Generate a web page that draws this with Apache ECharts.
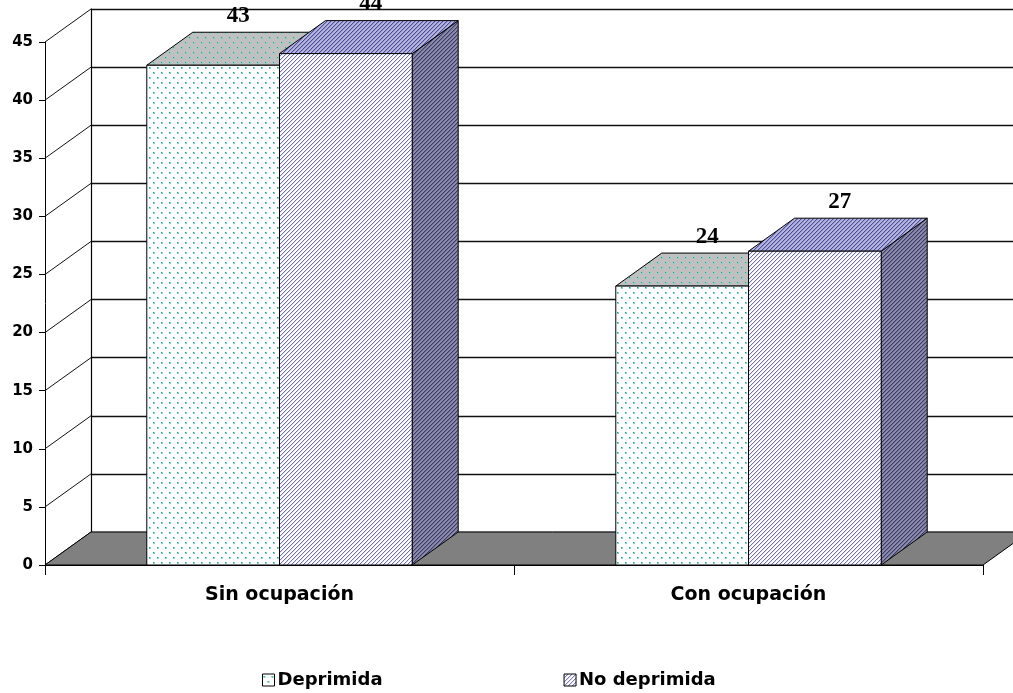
<!DOCTYPE html>
<html>
<head>
<meta charset="utf-8">
<script src="https://cdn.jsdelivr.net/npm/echarts@6/dist/echarts.min.js"></script>
<style>
  html, body { margin: 0; padding: 0; background: #fff; }
  #chart { width: 1013px; height: 693px; }
</style>
</head>
<body>
<div id="chart"></div>
<script>
// Chart data
const categories = ['Sin ocupación', 'Con ocupación'];
const seriesNames = ['Deprimida', 'No deprimida'];
const deprimida = [43, 24];
const noDeprimida = [44, 27];
const yTicks = [0, 5, 10, 15, 20, 25, 30, 35, 40, 45];

// 3D depth offset of the box (pixels)
const DX = 46, DY = -33;
const BAR_RATIO = 133 / 470;

// Fill patterns
function dotPattern(bg) {
  const c = document.createElement('canvas');
  c.width = 8; c.height = 10;
  const g = c.getContext('2d');
  g.fillStyle = bg; g.fillRect(0, 0, 8, 10);
  g.fillStyle = '#7fd4c8';
  g.fillRect(1, 2, 2, 2); g.fillRect(5, 7, 2, 2);
  g.fillStyle = '#18a090';
  g.fillRect(1, 2, 1, 1); g.fillRect(5, 7, 1, 1);
  return { image: c, repeat: 'repeat' };
}
function linePattern(bg, fg, mid) {
  const c = document.createElement('canvas');
  c.width = 4; c.height = 4;
  const g = c.getContext('2d');
  g.fillStyle = bg; g.fillRect(0, 0, 4, 4);
  for (let i = 0; i < 4; i++) {
    g.fillStyle = mid; g.fillRect(i, (4 - i) % 4, 1, 1);
    g.fillStyle = fg; g.fillRect(i, 3 - i, 1, 1);
  }
  return { image: c, repeat: 'repeat' };
}

const fills = {
  Deprimida: {
    front: dotPattern('#ffffff'),
    top: dotPattern('#c0c0c0'),
    side: dotPattern('#8a8a8a')
  },
  'No deprimida': {
    front: linePattern('#ffffff', '#6e6eb4', '#e6e6f4'),
    top: linePattern('#b4b4dc', '#4c4c9c', '#9898c8'),
    side: linePattern('#8c8ca8', '#3a3a6e', '#6c6c90')
  }
};

function barRenderer(slot, name) {
  const f = fills[name];
  return function (params, api) {
    const cat = api.value(0), v = api.value(1);
    const band = api.size([1, 0])[0];
    const w = band * BAR_RATIO;
    const top = api.coord([cat, v]);
    const base = api.coord([cat, 0]);
    const x0 = top[0] - w + slot * w;
    const x1 = x0 + w;
    const ty = top[1], by = base[1];
    const stroke = { stroke: '#000', lineWidth: 1 };
    return {
      type: 'group',
      children: [
        { type: 'polygon', shape: { points: [[x1, ty], [x1 + DX, ty + DY], [x1 + DX, by + DY], [x1, by]] },
          style: Object.assign({ fill: f.side }, stroke) },
        { type: 'polygon', shape: { points: [[x0, ty], [x1, ty], [x1 + DX, ty + DY], [x0 + DX, ty + DY]] },
          style: Object.assign({ fill: f.top }, stroke) },
        { type: 'rect', shape: { x: x0, y: ty, width: w, height: by - ty },
          style: Object.assign({ fill: f.front }, stroke) },
        { type: 'text', x: x0 + w / 2 + DX / 2 + 2, y: ty + DY - 5,
          style: { text: String(v), align: 'center', verticalAlign: 'bottom',
                   textAlign: 'center', textVerticalAlign: 'bottom',
                   font: 'bold 23px "Liberation Serif", serif', fill: '#000' } }
      ]
    };
  };
}

const chart = echarts.init(document.getElementById('chart'), null, { renderer: 'canvas' });

const labelFont = { fontFamily: '"DejaVu Sans", sans-serif', fontWeight: 'bold', color: '#000' };

chart.setOption({
  animation: false,
  backgroundColor: '#fff',
  grid: [
    { left: 45, top: 42, width: 938, height: 523 },
    { left: 91, top: 9, width: 1000, height: 523 }
  ],
  xAxis: [
    { type: 'category', gridIndex: 0, data: categories, boundaryGap: true,
      axisLine: { lineStyle: { color: '#000', width: 1 } },
      axisTick: { show: true, length: 10, lineStyle: { color: '#000' } },
      axisLabel: Object.assign({ fontSize: 19, margin: 21 }, labelFont),
      splitLine: { show: false } },
    { type: 'value', gridIndex: 1, min: 0, max: 1, show: false }
  ],
  yAxis: [
    { type: 'value', gridIndex: 0, min: 0, max: 45, interval: 5,
      axisLine: { show: true, lineStyle: { color: '#000', width: 1 } },
      axisTick: { show: true, length: 6, lineStyle: { color: '#000' } },
      axisLabel: Object.assign({ fontSize: 15, margin: 12 }, labelFont),
      splitLine: { show: false } },
    { type: 'value', gridIndex: 1, min: 0, max: 45, interval: 5,
      axisLine: { show: true, lineStyle: { color: '#000', width: 1.2 } },
      axisTick: { show: false }, axisLabel: { show: false },
      splitLine: { show: true, lineStyle: { color: '#111', width: 1.4 } } }
  ],
  legend: {
    left: 257, top: 666, itemWidth: 12, itemHeight: 12, itemGap: 181,
    textStyle: Object.assign({ fontSize: 18, padding: [0, 0, 0, -2] }, labelFont),
    data: [
      { name: 'Deprimida', icon: 'rect',
        itemStyle: { color: fills.Deprimida.front, borderColor: '#000', borderWidth: 1 } },
      { name: 'No deprimida', icon: 'rect',
        itemStyle: { color: fills['No deprimida'].front, borderColor: '#000', borderWidth: 1 } }
    ]
  },
  series: [
    // left side wall: diagonals from each front tick to the back wall
    { type: 'custom', name: 'wall', xAxisIndex: 0, yAxisIndex: 0, z: 1, silent: true,
      data: yTicks.map(t => [0, t]),
      renderItem: function (params, api) {
        const cs = params.coordSys;
        const p = api.coord([0, api.value(1)]);
        return { type: 'line', shape: { x1: cs.x, y1: p[1], x2: cs.x + DX, y2: p[1] + DY },
                 style: { stroke: '#111', lineWidth: 1 } };
      } },
    // floor
    { type: 'custom', name: 'floor', xAxisIndex: 0, yAxisIndex: 0, z: 1, silent: true,
      data: [[0, 0]],
      renderItem: function (params, api) {
        const cs = params.coordSys;
        const y0 = api.coord([0, 0])[1];
        const xa = cs.x, xb = cs.x + cs.width;
        return { type: 'polygon',
                 shape: { points: [[xa, y0], [xb, y0], [xb + DX, y0 + DY], [xa + DX, y0 + DY]] },
                 style: { fill: '#808080', stroke: '#000', lineWidth: 1 } };
      } },
    { type: 'custom', name: seriesNames[0], xAxisIndex: 0, yAxisIndex: 0, z: 3,
      itemStyle: { color: '#ffffff' },
      data: deprimida.map((v, i) => [i, v]),
      renderItem: barRenderer(0, seriesNames[0]) },
    { type: 'custom', name: seriesNames[1], xAxisIndex: 0, yAxisIndex: 0, z: 3,
      itemStyle: { color: '#b4b4d8' },
      data: noDeprimida.map((v, i) => [i, v]),
      renderItem: barRenderer(1, seriesNames[1]) }
  ]
});
</script>
</body>
</html>
